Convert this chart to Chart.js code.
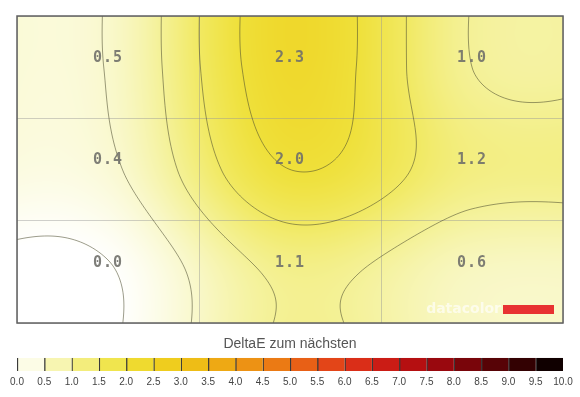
<!DOCTYPE html>
<html>
<head>
<meta charset="utf-8">
<script src="https://cdn.jsdelivr.net/npm/chart.js@4.4.1/dist/chart.umd.min.js"></script>
<style>
body { margin: 0; background: #fff; }
#wrap { position: relative; width: 580px; height: 397px; }
#heat { position: absolute; left: 0; top: 0; }
#scale { position: absolute; left: 0; top: 330px; }
</style>
</head>
<body>
<div id="wrap">
<canvas id="heat" width="580" height="330"></canvas>
<canvas id="scale" width="580" height="67"></canvas>
</div>
<script>
// DeltaE per zone, rows from top to bottom
var rowTop = [0.5, 2.3, 1.0];
var rowMiddle = [0.4, 2.0, 1.2];
var rowBottom = [0.0, 1.1, 0.6];
var contourLevels = [0.03, 0.48, 1.0, 1.5, 2.0];

// colour scale
var scaleTicks = [0, 0.5, 1, 1.5, 2, 2.5, 3, 3.5, 4, 4.5, 5, 5.5, 6, 6.5, 7, 7.5, 8, 8.5, 9, 9.5, 10];
var scaleColors = ["#ffffff", "#f9f8cc", "#f4f196", "#f1e962", "#efe03a", "#efd424", "#eec618",
    "#eeb414", "#ed9e14", "#ec8614", "#ea6e14", "#e65218", "#e03818", "#d42418", "#c21412",
    "#a80a10", "#8a060c", "#680408", "#460204", "#200000", "#000000"];
var scaleTitle = "DeltaE zum nächsten";

var grid = [rowBottom, rowMiddle, rowTop]; // row 0 = bottom

function hexRgb(h) {
    return [parseInt(h.substr(1, 2), 16), parseInt(h.substr(3, 2), 16), parseInt(h.substr(5, 2), 16)];
}
var scaleRgb = scaleColors.map(hexRgb);

function colorAt(v) {
    if (v <= scaleTicks[0]) return scaleRgb[0];
    var n = scaleTicks.length;
    if (v >= scaleTicks[n - 1]) return scaleRgb[n - 1];
    for (var i = 0; i < n - 1; i++) {
        if (v <= scaleTicks[i + 1]) {
            var t = (v - scaleTicks[i]) / (scaleTicks[i + 1] - scaleTicks[i]);
            var a = scaleRgb[i], b = scaleRgb[i + 1];
            return [a[0] + (b[0] - a[0]) * t, a[1] + (b[1] - a[1]) * t, a[2] + (b[2] - a[2]) * t];
        }
    }
}

function cr(p0, p1, p2, p3, t) {
    return 0.5 * (2 * p1 + (-p0 + p2) * t + (2 * p0 - 5 * p1 + 4 * p2 - p3) * t * t + (-p0 + 3 * p1 - 3 * p2 + p3) * t * t * t);
}
function pick(arr, k) { return arr[Math.max(0, Math.min(arr.length - 1, k))]; }
function interp1(arr, u) {
    var i = Math.floor(u), t = u - i;
    return cr(pick(arr, i - 1), pick(arr, i), pick(arr, i + 1), pick(arr, i + 2), t);
}
function field(x, y) {
    var col = grid.map(function (r) { return interp1(r, x - 0.5); });
    return interp1(col, y - 0.5);
}

var points = [];
[rowTop, rowMiddle, rowBottom].forEach(function (row, r) {
    row.forEach(function (v, c) { points.push({ x: c + 0.5, y: 2.5 - r, v: v }); });
});

var heatPlugin = {
    id: "heat",
    beforeDraw: function (chart) {
        var ctx = chart.ctx, a = chart.chartArea, xs = chart.scales.x, ys = chart.scales.y;
        var left = Math.floor(a.left), top = Math.floor(a.top);
        var w = Math.ceil(a.right) - left, h = Math.ceil(a.bottom) - top;
        var off = document.createElement("canvas");
        off.width = w; off.height = h;
        var octx = off.getContext("2d");
        var img = octx.createImageData(w, h);
        for (var py = 0; py < h; py++) {
            var yv = ys.getValueForPixel(top + py + 0.5);
            for (var px = 0; px < w; px++) {
                var c = colorAt(field(xs.getValueForPixel(left + px + 0.5), yv));
                var k = (py * w + px) * 4;
                img.data[k] = c[0]; img.data[k + 1] = c[1]; img.data[k + 2] = c[2]; img.data[k + 3] = 255;
            }
        }
        octx.putImageData(img, 0, 0);
        ctx.drawImage(off, left, top);
    },
    beforeDatasetsDraw: function (chart) {
        var ctx = chart.ctx, a = chart.chartArea, xs = chart.scales.x, ys = chart.scales.y;
        var step = 2;
        var nx = Math.ceil((a.right - a.left) / step) + 1, ny = Math.ceil((a.bottom - a.top) / step) + 1;
        var vals = [];
        for (var j = 0; j < ny; j++) {
            vals[j] = [];
            for (var i = 0; i < nx; i++) {
                var px = Math.min(a.left + i * step, a.right), py = Math.min(a.top + j * step, a.bottom);
                vals[j][i] = field(xs.getValueForPixel(px), ys.getValueForPixel(py));
            }
        }
        ctx.save();
        ctx.beginPath();
        ctx.rect(a.left, a.top, a.right - a.left, a.bottom - a.top);
        ctx.clip();
        ctx.strokeStyle = "rgba(75,75,45,0.55)";
        ctx.lineWidth = 1;
        contourLevels.forEach(function (L) {
            ctx.beginPath();
            for (var j = 0; j < ny - 1; j++) {
                for (var i = 0; i < nx - 1; i++) {
                    var x0 = a.left + i * step, y0 = a.top + j * step, x1 = x0 + step, y1 = y0 + step;
                    var va = vals[j][i], vb = vals[j][i + 1], vc = vals[j + 1][i + 1], vd = vals[j + 1][i];
                    var pts = [];
                    if ((va > L) != (vb > L)) pts.push([x0 + (L - va) / (vb - va) * step, y0]);
                    if ((vb > L) != (vc > L)) pts.push([x1, y0 + (L - vb) / (vc - vb) * step]);
                    if ((vd > L) != (vc > L)) pts.push([x0 + (L - vd) / (vc - vd) * step, y1]);
                    if ((va > L) != (vd > L)) pts.push([x0, y0 + (L - va) / (vd - va) * step]);
                    for (var p = 0; p + 1 < pts.length; p += 2) {
                        ctx.moveTo(pts[p][0], pts[p][1]);
                        ctx.lineTo(pts[p + 1][0], pts[p + 1][1]);
                    }
                }
            }
            ctx.stroke();
        });
        ctx.restore();
    },
    afterDatasetsDraw: function (chart) {
        var ctx = chart.ctx, xs = chart.scales.x, ys = chart.scales.y;
        ctx.save();
        ctx.font = "bold 15px 'DejaVu Sans Mono'";
        ctx.letterSpacing = "1px";
        ctx.fillStyle = "rgba(112,112,106,0.9)";
        ctx.textAlign = "center";
        ctx.textBaseline = "middle";
        chart.data.datasets[0].data.forEach(function (p) {
            ctx.fillText(p.v.toFixed(1), xs.getPixelForValue(p.x), ys.getPixelForValue(p.y) - 9);
        });
        ctx.restore();
    },
    afterDraw: function (chart) {
        var ctx = chart.ctx, a = chart.chartArea;
        ctx.save();
        // watermark
        ctx.font = "bold 14px 'DejaVu Sans'";
        ctx.fillStyle = "rgba(255,255,255,0.65)";
        ctx.textAlign = "right";
        ctx.textBaseline = "middle";
        ctx.fillText("datacolor", a.right - 62, a.bottom - 14);
        ctx.fillStyle = "#e83232";
        ctx.fillRect(a.right - 60, a.bottom - 18, 51, 9);
        // frame
        ctx.strokeStyle = "#606060";
        ctx.lineWidth = 1.5;
        ctx.strokeRect(a.left, a.top, a.right - a.left, a.bottom - a.top);
        ctx.restore();
    }
};

new Chart("heat", {
    type: "scatter",
    data: { datasets: [{ data: points, pointRadius: 0, pointHoverRadius: 0 }] },
    options: {
        responsive: false,
        animation: false,
        events: [],
        layout: { padding: { left: 17, right: 17, top: 16, bottom: 7 } },
        plugins: { legend: { display: false }, tooltip: { enabled: false } },
        scales: {
            x: { type: "linear", min: 0, max: 3, ticks: { display: false, stepSize: 1 },
                grid: { drawTicks: false, color: "rgba(150,150,150,0.45)" }, border: { display: false } },
            y: { type: "linear", min: 0, max: 3, ticks: { display: false, stepSize: 1 },
                grid: { drawTicks: false, color: "rgba(150,150,150,0.45)" }, border: { display: false } }
        }
    },
    plugins: [heatPlugin]
});

// colour bar
function mix(a, b) {
    var p = hexRgb(a), q = hexRgb(b);
    return "rgb(" + Math.round((p[0] + q[0]) / 2) + "," + Math.round((p[1] + q[1]) / 2) + "," + Math.round((p[2] + q[2]) / 2) + ")";
}
var barSets = scaleTicks.slice(0, -1).map(function (lo, i) {
    return {
        data: [[lo, scaleTicks[i + 1]]],
        backgroundColor: mix(scaleColors[i], scaleColors[i + 1]),
        borderColor: "#3a3a3a",
        borderWidth: { left: 1.5, right: 0, top: 0, bottom: 0 },
        borderSkipped: false,
        grouped: false,
        barPercentage: 1,
        categoryPercentage: 1
    };
});

new Chart("scale", {
    type: "bar",
    data: { labels: [""], datasets: barSets },
    options: {
        indexAxis: "y",
        responsive: false,
        animation: false,
        events: [],
        layout: { padding: { left: 17, right: 17, top: 0, bottom: 9 } },
        plugins: {
            legend: { display: false },
            tooltip: { enabled: false },
            title: { display: true, text: scaleTitle, color: "#555", padding: { top: 6, bottom: 5 },
                font: { size: 14, family: "'Liberation Sans'", weight: "normal", lineHeight: 1.2 } }
        },
        scales: {
            x: { type: "linear", min: 0, max: 10,
                afterFit: function (s) { s.height = 17; },
                ticks: { stepSize: 0.5, maxTicksLimit: 21, autoSkip: false, maxRotation: 0, padding: 5, color: "#444",
                    font: { size: 10, family: "'Liberation Sans'" },
                    callback: function (v) { return Number(v).toFixed(1); } },
                grid: { display: false, drawTicks: false }, border: { display: false } },
            y: { display: false, offset: true }
        }
    }
});
</script>
</body>
</html>
